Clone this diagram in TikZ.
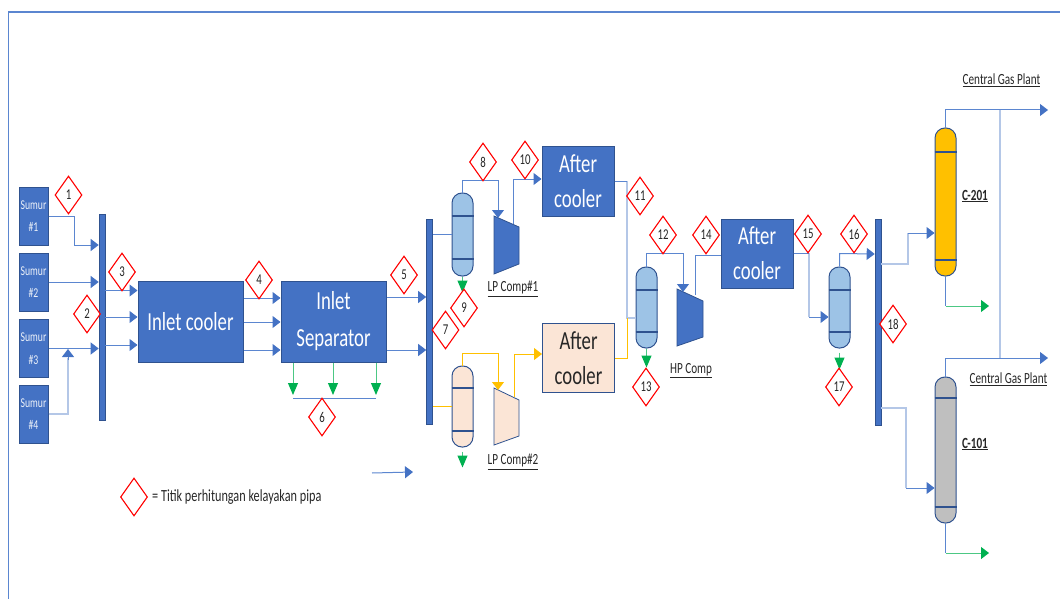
\documentclass[tikz,border=0pt]{standalone}
\usepackage{fontspec}
\setmainfont[FakeStretch=0.72]{Carlito}
\usetikzlibrary{arrows.meta,shapes.geometric,calc}
\definecolor{pblue}{HTML}{4472C4}
\definecolor{pdark}{HTML}{2F528F}
\definecolor{pline}{HTML}{5B86D0}
\definecolor{plight}{HTML}{B4C7E7}
\definecolor{pves}{HTML}{9DC3E6}
\definecolor{ppeach}{HTML}{FBE5D6}
\definecolor{porange}{HTML}{FFC000}
\definecolor{pgrey}{HTML}{BFBFBF}
\definecolor{pgreen}{HTML}{00B050}
\tikzset{
  fs/.style={font=\fontsize{#1}{#1}\selectfont},
  boxnode/.style 2 args={draw=pdark,line width=1pt,fill=pblue,text=white,inner sep=0pt,minimum width=#1,minimum height=#2,align=center},
  sumur/.style={boxnode={29pt}{58pt},fs=13.5,text=white!90!pblue},
  bigbox/.style={boxnode={105pt}{81pt},fs=26},
  coolerbox/.style={boxnode={72pt}{69pt},fs=26},
  barnode/.style={draw=pdark,fill=pblue,line width=.6pt,inner sep=0pt,minimum width=6pt,minimum height=#1},
  vessel/.style 2 args={draw=pdark,line width=1pt,fill=#2,rounded corners=10pt,inner sep=0pt,minimum width=21pt,minimum height=#1},
  tagmark/.style={draw=red,fill=white,line width=1.1pt,diamond,inner sep=0pt,minimum width=27pt,minimum height=38pt,fs=15,text=black!85},
  tagtext/.style={inner sep=0pt,fs=#1,text=black!85},
  pipe/.style={draw=pline,line width=1pt},
  pipeL/.style={draw=plight,line width=1.3pt},
  flowtip/.style={-{Triangle[length=8pt,width=12pt,fill=#1,color=#1]}},
  fpipe/.style={pipe,flowtip=pblue},
  ypipe/.style={draw=porange,line width=1pt},
  yflow/.style={ypipe,flowtip=porange},
  gflow/.style={draw=pgreen!70,line width=1pt,flowtip=pgreen},
  gshort/.style={draw=pgreen!70,line width=1pt,-{Triangle[length=12pt,width=10pt,fill=pgreen,color=pgreen]}},
  vband/.style={draw=pdark,line width=1.6pt},
  comp/.style={draw=pdark,line width=.8pt,fill=#1},
}
\begin{document}
\begin{tikzpicture}[x=1pt,y=-1pt]
\useasboundingbox (0,0) rectangle (1060,599);
\coordinate (frameA) at (8.5,599);
\coordinate (frameB) at (8.5,12);
\coordinate (frameC) at (1060,12);
\draw[draw=pline,line width=1.3pt] (frameA) -- (frameB) -- (frameC);

% wells
\node[sumur] (s1) at (33.5,216) {Sumur\\[9pt]\#1};
\node[sumur] (s2) at (33.5,282) {Sumur\\[9pt]\#2};
\node[sumur] (s3) at (33.5,348.5) {Sumur\\[9pt]\#3};
\node[sumur] (s4) at (33.5,414) {Sumur\\[9pt]\#4};
% bars
\node[barnode=206pt] (b1) at (102,317) {};
\node[barnode=205pt] (b2) at (429.5,321.5) {};
\node[barnode=206pt] (b3) at (878,322) {};
% blocks
\node[bigbox] (cool) at (190.5,321.5) {Inlet cooler};
\node[bigbox] (sep) at (333.5,321.5) {Inlet\\[11pt]Separator};
\node[coolerbox] (ac1) at (578,181.5) {After\\[9pt]cooler};
\node[coolerbox,fill=ppeach,text=black!85] (ac2) at (578.5,358) {After\\[9pt]cooler};
\node[coolerbox] (ac3) at (757,253.5) {After\\[9pt]cooler};
% vessels
\node[vessel={83pt}{pves}] (v1) at (462.5,234.5) {};
\node[vessel={81pt}{ppeach}] (v4) at (462.5,406.5) {};
\node[vessel={81pt}{pves}] (v2) at (646.5,307.5) {};
\node[vessel={81pt}{pves}] (v3) at (839.5,307.5) {};
\node[vessel={148pt}{porange}] (c2) at (945.5,202) {};
\node[vessel={146pt}{pgrey}] (c1) at (945.5,450) {};
\draw[vband] (v1.west |- 0,216) -- (v1.east |- 0,216) (v1.west |- 0,259) -- (v1.east |- 0,259);
\draw[vband] (v4.west |- 0,388) -- (v4.east |- 0,388) (v4.west |- 0,431) -- (v4.east |- 0,431);
\draw[vband] (v2.west |- 0,290) -- (v2.east |- 0,290) (v2.west |- 0,332) -- (v2.east |- 0,332);
\draw[vband] (v3.west |- 0,290) -- (v3.east |- 0,290) (v3.west |- 0,332) -- (v3.east |- 0,332);
\draw[vband] (c2.west |- 0,152) -- (c2.east |- 0,152) (c2.west |- 0,260) -- (c2.east |- 0,260);
\draw[vband] (c1.west |- 0,398) -- (c1.east |- 0,398) (c1.west |- 0,507) -- (c1.east |- 0,507);
% compressors
\draw[comp=pblue] (494,216) coordinate (lp1in) -- (519,227) -- (519,264) -- (494,274) -- cycle;
\draw[comp=ppeach] (494,388) coordinate (lp2in) -- (519,400) -- (519,436) -- (494,445) -- cycle;
\draw[comp=pblue] (677,289) coordinate (hpin) -- (703,301) -- (703,337) -- (677,346) -- cycle;
\coordinate (lp1top) at (498,218);
\coordinate (lp1out) at (513,224);
\coordinate (lp2top) at (498,390);
\coordinate (lp2out) at (514,397);
\coordinate (hptop) at (683,292);
\coordinate (hpout) at (695,295);
% feed
\draw[fpipe] (s1.east) -| (74,245) -- (b1.west |- 0,245);
\draw[fpipe] (s2.east) -- (b1.west |- s2);
\draw[fpipe] (s3.east) -- (b1.west |- s3);
\draw[pipeL] (s4.east) -- (68,414) -- (68,358);
\draw[fpipe] (68,360) -- (68,349);
\foreach \yy in {290.5,317,345} \draw[fpipe] (b1.east |- 0,\yy) -- (cool.west |- 0,\yy);
\foreach \yy in {298,322,350} \draw[fpipe] (cool.east |- 0,\yy) -- (sep.west |- 0,\yy);
\foreach \yy in {297,350} \draw[fpipe] (sep.east |- 0,\yy) -- (b2.west |- 0,\yy);
% condensate
\coordinate (co1) at (293,395);
\coordinate (co2) at (333,395);
\coordinate (co3) at (376,395);
\foreach \cc in {co1,co2,co3} \draw[gshort] (sep.south -| \cc) -- (\cc);
\draw[pipe] ($(co1)+(0,3)$) -- ($(co3)+(0,3)$);
% LP train 1
\draw[pipe] (b2.east |- v1) -- (v1.west);
\draw[fpipe] (v1.north) -- ++(0,-12) -| (lp1top);
\draw[fpipe] (lp1out) |- (ac1.west |- 0,179);
\draw[gshort] (v1.south) -- ++(0,16);
\draw[pipeL] (ac1.east) -- (627,181.5) -- (627,318) -- (v2.west |- 0,318);
\draw[pipe] (ac1.east) -- (627,181.5);
% LP train 2
\draw[ypipe] (b2.east |- v4) -- (v4.west);
\draw[yflow] (v4.north) -- ++(0,-12) -| (lp2top);
\draw[yflow] (lp2out) |- (ac2.west |- 0,354);
\draw[gshort] (v4.south) ++(0,4) -- ++(0,16);
\draw[ypipe] (ac2.east) -- (627,358) -- (627,318);
% HP
\draw[fpipe] (v2.north) -- ++(0,-13) -| (hptop);
\draw[pipe] (hpout) |- (ac3.west |- 0,255);
\draw[gshort] (v2.south) -- ++(0,19);
\draw[pipeL] (ac3.east) -- (809,253.5) -- (809,317);
\draw[pipe] (ac3.east) -- (809,253.5);
\draw[fpipe] (809,317) -- (v3.west |- 0,317);
\draw[gshort] (v3.south) ++(0,4) -- ++(0,17);
\draw[fpipe] (v3.north) -- ++(0,-13) -- (b3.west |- 0,254);
% columns
\draw[pipeL] (b3.east |- 0,264) -- (908,264) -- (908,233);
\draw[fpipe] (908,233) -- (c2.west |- 0,233);
\draw[pipeL] (b3.east |- 0,408) -- (906,408) -- (906,488);
\draw[fpipe] (906,488) -- (c1.west |- 0,488);
\coordinate (gas1) at (1048,110);
\coordinate (gas2) at (1048,358);
\draw[fpipe] (c2.north) |- (gas1);
\draw[fpipe] (c1.north) |- (gas2);
\draw[pipeL] (1000,110) -- (1000,358);
\draw[pipe] (c2.south) -- (945.5,306);
\draw[gflow] (945.5,306) -- (989,306);
\draw[pipe] (c1.south) -- (945.5,553);
\draw[gflow] (945.5,553) -- (989,553);
% stray arrow
\coordinate (st1) at (372,473);
\coordinate (st2) at (413,472);
\draw[fpipe] (st1) -- (st2);
% markers
\node[tagmark] (m1) at (68.5,195) {1};
\node[tagmark] (m2) at (87,314) {2};
\node[tagmark] (m3) at (122,272) {3};
\node[tagmark] (m4) at (259,280) {4};
\node[tagmark] (m5) at (404,275) {5};
\node[tagmark] (m6) at (322,417) {6};
\node[tagmark] (m7) at (445.5,330) {7};
\node[tagmark] (m8) at (483,162) {8};
\node[tagmark] (m9) at (464,308) {9};
\node[tagmark] (m10) at (525,160) {10};
\node[tagmark] (m11) at (640,196) {11};
\node[tagmark] (m12) at (663,235) {12};
\node[tagmark] (m13) at (646,387) {13};
\node[tagmark] (m14) at (706,235) {14};
\node[tagmark] (m15) at (808,234) {15};
\node[tagmark] (m16) at (854,234) {16};
\node[tagmark] (m17) at (839,387) {17};
\node[tagmark] (m18) at (893,324) {18};
\node[tagmark] (m0) at (134,497) {};
% labels
\node[tagtext=17,anchor=west] (legend) at (152,497) {= Titik perhitungan kelayakan pipa};
\node[tagtext=15.5] (l1) at (513,289) {\underline{LP Comp\#1}};
\node[tagtext=15.5] (l2) at (513,462) {\underline{LP Comp\#2}};
\node[tagtext=15.5] (l3) at (691,371) {\underline{HP Comp}};
\node[tagtext=15.5] (l4) at (1001.5,80) {\underline{Central Gas Plant}};
\node[tagtext=15.5] (l5) at (1008.5,379) {\underline{Central Gas Plant}};
\node[tagtext=15.5,font=\fontsize{15.5}{15.5}\selectfont\bfseries] (l6) at (975,196) {\underline{C-201}};
\node[tagtext=15.5,font=\fontsize{15.5}{15.5}\selectfont\bfseries] (l7) at (975,444) {\underline{C-101}};
\end{tikzpicture}
\end{document}
